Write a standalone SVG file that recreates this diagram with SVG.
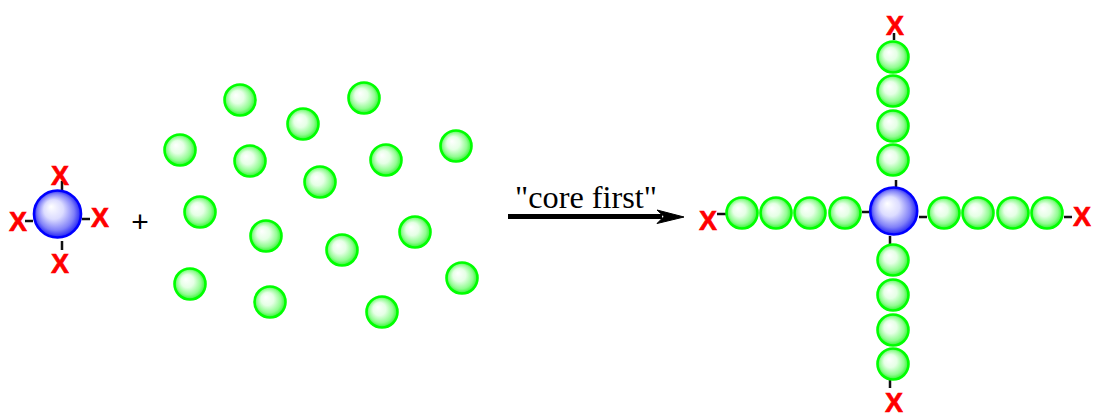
<svg xmlns="http://www.w3.org/2000/svg" width="1093" height="414" viewBox="0 0 1093 414">
<style>
.g{fill:url(#gg);stroke:#00ff00;stroke-width:2.6}
.b{fill:url(#bg);stroke:#0000ff;stroke-width:2.6}
.t{stroke:#111;stroke-width:2.5;fill:none}
.x{font-family:"Liberation Sans",Arial,sans-serif;font-weight:700;font-size:27px;fill:#ff0000;stroke:#ff0000;stroke-width:0.6;text-anchor:middle}
</style>
<defs>
<radialGradient id="gg" cx="0.5" cy="0.5" r="0.52" fx="0.36" fy="0.34"><stop offset="0" stop-color="#fff"/><stop offset="0.4" stop-color="#e6ffe6"/><stop offset="0.75" stop-color="#90fc90"/><stop offset="1" stop-color="#20f420"/></radialGradient>
<radialGradient id="bg" cx="0.5" cy="0.5" r="0.52" fx="0.36" fy="0.34"><stop offset="0" stop-color="#fff"/><stop offset="0.4" stop-color="#dcdcff"/><stop offset="0.75" stop-color="#8080f8"/><stop offset="1" stop-color="#1414f4"/></radialGradient>
</defs>
<g id="connectors">
<path class="t" d="M62 181V190M25 221H33M82 219H90M62 241V250"/>
<path class="t" d="M896 180V187M862 212H869M919 217H927M890 236V244M894 33V40M890 380V388M717 214H726M1064 217H1072"/>
<path d="M508 214H662V219H508Z" fill="#000"/>
<path id="arrowhead" d="M684 217L657 210L664 216.500L657 223.500Z" fill="#000" stroke="#000"/>
</g>
<g id="core-left"><circle class="b" cx="57.500" cy="214" r="23.500"/><text class="x" x="60" y="185">X</text><text class="x" x="18" y="231">X</text><text class="x" x="100" y="227">X</text><text class="x" x="60" y="273">X</text></g>
<g id="plus"><text x="140" y="232" font-family="Liberation Sans,sans-serif" font-size="30" fill="#000" text-anchor="middle">+</text></g>
<g id="monomers">
<circle class="g" cx="240" cy="100" r="15.500"/><circle class="g" cx="303" cy="124" r="15.500"/><circle class="g" cx="364" cy="98" r="15.500"/><circle class="g" cx="180" cy="150" r="15.500"/><circle class="g" cx="250" cy="161" r="15.500"/><circle class="g" cx="386" cy="160" r="15.500"/><circle class="g" cx="456" cy="146" r="15.500"/><circle class="g" cx="320" cy="182" r="15.500"/><circle class="g" cx="200" cy="212" r="15.500"/><circle class="g" cx="266" cy="236" r="15.500"/><circle class="g" cx="342" cy="250" r="15.500"/><circle class="g" cx="415" cy="232" r="15.500"/><circle class="g" cx="190" cy="284" r="15.500"/><circle class="g" cx="270" cy="302" r="15.500"/><circle class="g" cx="382" cy="312" r="15.500"/><circle class="g" cx="462" cy="278" r="15.500"/>
</g>
<g id="label"><text x="515" y="208" font-family="Liberation Serif,serif" font-size="32" fill="#000" textLength="142" lengthAdjust="spacingAndGlyphs">"core first"</text></g>
<g id="arm-top"><circle class="g" cx="893" cy="57" r="15.500"/><circle class="g" cx="893" cy="91" r="15.500"/><circle class="g" cx="893" cy="126" r="15.500"/><circle class="g" cx="893" cy="160" r="15.500"/><text class="x" x="895" y="35">X</text></g>
<g id="arm-bottom"><circle class="g" cx="893" cy="260" r="15.500"/><circle class="g" cx="893" cy="295" r="15.500"/><circle class="g" cx="893" cy="330" r="15.500"/><circle class="g" cx="893" cy="364" r="15.500"/><text class="x" x="894" y="412">X</text></g>
<g id="arm-left"><circle class="g" cx="742" cy="213" r="15.500"/><circle class="g" cx="776" cy="213" r="15.500"/><circle class="g" cx="810" cy="213" r="15.500"/><circle class="g" cx="845" cy="213" r="15.500"/><text class="x" x="708" y="230">X</text></g>
<g id="arm-right"><circle class="g" cx="944" cy="213" r="15.500"/><circle class="g" cx="978" cy="213" r="15.500"/><circle class="g" cx="1013" cy="213" r="15.500"/><circle class="g" cx="1047" cy="213" r="15.500"/><text class="x" x="1082" y="226">X</text></g>
<g id="core-right"><circle class="b" cx="893.700" cy="211" r="23.500"/></g>
</svg>
